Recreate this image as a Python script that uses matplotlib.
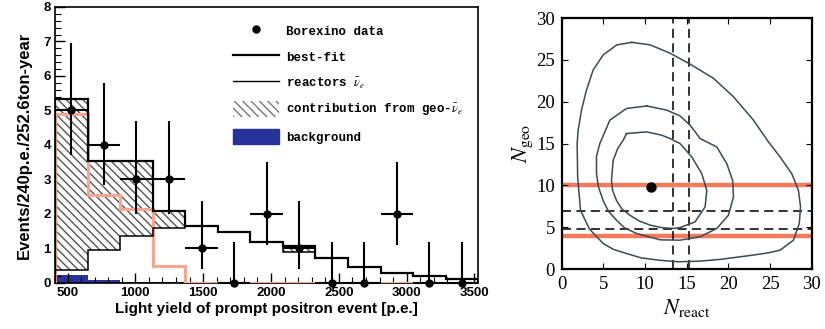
import numpy as np
import matplotlib
matplotlib.use('Agg')
import matplotlib.pyplot as plt
from matplotlib.lines import Line2D
from matplotlib.patches import Patch
from matplotlib.font_manager import FontProperties

plt.rcParams['mathtext.fontset'] = 'stix'

# ---- left panel data (bins of 240 p.e.) ----
bin_edges = [408, 648, 888, 1128, 1368, 1608, 1848, 2088, 2328, 2568, 2808, 3048, 3288, 3528]
data_x = [528, 768, 1008, 1248, 1488, 1728, 1968, 2208, 2448, 2688, 2928, 3168, 3408]
data_y = [5, 4, 3, 3, 1, 0, 2, 1, 0, 0, 2, 0, 0]
err_lo = [1.3, 1.17, 1.0, 1.0, 0.6, 0.0, 0.9, 0.6, 0.0, 0.0, 0.9, 0.0, 0.0]
err_hi = [1.95, 1.8, 1.7, 1.7, 1.37, 1.2, 1.5, 1.37, 1.2, 1.2, 1.5, 1.2, 1.2]
best_fit = [5.32, 3.52, 3.52, 2.08, 1.65, 1.48, 1.2, 1.06, 0.71, 0.46, 0.29, 0.2, 0.11]
reactors = [0.37, 0.95, 1.37, 1.6, 1.65, 1.48, 1.2, 0.89, 0.71, 0.46, 0.29, 0.2, 0.11]
geo = [4.9, 2.55, 2.14, 0.5, 0, 0, 0, 0, 0, 0, 0, 0, 0]
background = [0.22, 0.08, 0.04, 0.03, 0.02, 0.02, 0.01, 0.01, 0.01, 0.01, 0.01, 0.01, 0.01]

# ---- right panel data ----
best_point = (10.7, 9.8)
orange_geo = [10.0, 3.9]
dashed_geo = [6.9, 4.8]
dashed_react = [13.4, 15.3]

outer_n = [8.4, 10.6, 13.0, 15.4, 18.2, 20.6, 23.0, 24.8, 26.2, 27.6, 28.4, 28.65, 28.5, 27.8,
           26.2, 24.8, 22.9, 19.0, 16.5, 14.0, 11.8, 9.5, 7.76, 6.2, 4.96, 3.3, 2.24, 1.9,
           1.84, 1.96, 2.36, 2.96, 3.76, 4.96, 6.6, 8.4]
outer_g = [27.1, 26.8, 25.8, 24.5, 22.8, 20.6, 17.8, 15.2, 13.4, 11.4, 9.4, 7.45, 5.46, 3.46,
           2.27, 1.95, 1.67, 1.16, 0.95, 0.88, 1.05, 1.35, 1.87, 2.35, 3.07, 4.8, 7.05, 11.0,
           15.0, 16.6, 19.0, 21.4, 23.8, 25.6, 26.8, 27.1]
middle_n = [10.2, 12.6, 14.2, 15.4, 16.6, 18.6, 19.8, 20.5, 20.6, 20.0, 18.6, 16.6, 14.2, 11.8,
            8.96, 7.5, 6.56, 5.6, 4.96, 4.4, 4.16, 4.16, 4.56, 5.76, 7.76, 10.2]
middle_g = [19.5, 19.0, 18.3, 17.2, 15.6, 14.6, 12.6, 10.6, 8.64, 6.45, 4.86, 3.86, 3.46, 3.5,
            4.26, 4.95, 5.85, 6.9, 8.2, 9.8, 11.4, 13.5, 15.0, 17.8, 19.2, 19.5]
inner_n = [7.76, 10.2, 12.0, 13.0, 14.2, 15.6, 16.8, 17.4, 17.2, 16.0, 14.2, 13.4, 12.0, 10.6,
           9.3, 8.16, 7.2, 6.56, 6.1, 5.96, 6.16, 6.7, 7.36, 7.76]
inner_g = [16.2, 16.4, 16.0, 15.6, 15.0, 13.4, 11.4, 9.4, 7.45, 5.65, 4.97, 4.86, 4.95, 5.26,
           5.75, 6.45, 7.2, 8.2, 9.4, 10.6, 13.0, 14.4, 15.4, 16.2]

fig = plt.figure(figsize=(8.25, 3.29), dpi=100)

# ---------------- left panel ----------------
ax = fig.add_axes([0.0667, 0.140, 0.513, 0.839])
bold = dict(family='Liberation Sans', weight='bold')

ax.stairs(background, bin_edges, fill=True, color='#28339a', zorder=1)
ax.stairs(best_fit, bin_edges, baseline=reactors, fill=True, facecolor='white',
          edgecolor='#555555', hatch='\\\\\\\\', linewidth=0, zorder=2)
ax.stairs(geo, bin_edges, color='#f7a68f', linewidth=2.2, zorder=3)
ax.stairs(reactors, bin_edges, color='black', linewidth=1.1, zorder=4)
ax.stairs(best_fit, bin_edges, color='black', linewidth=1.6, zorder=5)
ax.errorbar(data_x, data_y, xerr=120, yerr=[err_lo, err_hi], fmt='o', color='black',
            markersize=5, elinewidth=1.5, capsize=0, zorder=6, clip_on=False)

ax.set_xlim(408, 3528)
ax.set_ylim(0, 8)
ax.set_xticks([500, 1000, 1500, 2000, 2500, 3000, 3500])
ax.set_xticks(np.arange(500, 3528, 100), minor=True)
ax.set_yticks(range(0, 9))
ax.set_yticks(np.arange(0, 8.01, 0.2), minor=True)
ax.tick_params(direction='in', which='major', length=7, width=1, top=False, right=False, pad=3)
ax.tick_params(direction='in', which='minor', length=4, width=0.8, top=False, right=False)
for lab in ax.get_xticklabels() + ax.get_yticklabels():
    lab.set_fontproperties(FontProperties(size=9.5, **bold))
for s in ax.spines.values():
    s.set_linewidth(1.2)
ax.set_xlabel('Light yield of prompt positron event [p.e.]', fontsize=11, labelpad=2, **bold)
ax.set_ylabel('Events/240p.e./252.6ton-year', fontsize=12, labelpad=8, **bold)

handles = [
    Line2D([], [], marker='o', color='black', linestyle='none', markersize=5),
    Line2D([], [], color='black', linewidth=1.6),
    Line2D([], [], color='black', linewidth=1.0),
    Patch(facecolor='white', edgecolor='#777777', hatch='\\\\\\\\', linewidth=0),
    Patch(facecolor='#28339a', edgecolor='#28339a'),
]
labels = ['Borexino data', 'best-fit', r'reactors $\bar{\nu}_e$',
          r'contribution from geo-$\bar{\nu}_e$', 'background']
ax.legend(handles, labels, loc='upper left', bbox_to_anchor=(0.42, 0.94), frameon=False,
          prop=dict(family='Liberation Mono', weight='bold', size=9),
          handlelength=3.7, handleheight=1.5, labelspacing=0.85, handletextpad=0.55,
          borderpad=0, borderaxespad=0)

# ---------------- right panel ----------------
ax2 = fig.add_axes([0.681, 0.182, 0.303, 0.763])
for g in orange_geo:
    ax2.axhline(g, color='#f47a5c', linewidth=3.2, zorder=1)
for g in dashed_geo:
    ax2.axhline(g, color='#222222', linewidth=1.3, linestyle=(0, (5, 3)), zorder=2)
for n in dashed_react:
    ax2.axvline(n, color='#222222', linewidth=1.3, linestyle=(0, (5, 3)), zorder=2)
for cn, cg in [(outer_n, outer_g), (middle_n, middle_g), (inner_n, inner_g)]:
    ax2.plot(cn, cg, color='#3c4a55', linewidth=1.1, zorder=3)
ax2.plot(*best_point, 'o', color='black', markersize=6.5, zorder=4)

ax2.set_xlim(0, 30)
ax2.set_ylim(0, 30)
ax2.set_xticks(range(0, 31, 5))
ax2.set_yticks(range(0, 31, 5))
ax2.tick_params(direction='in', length=4, width=0.8, top=True, right=True, pad=5,
                labelsize=13.5)
for lab in ax2.get_xticklabels() + ax2.get_yticklabels():
    lab.set_family('Liberation Serif')
for s in ax2.spines.values():
    s.set_linewidth(1.6)
ax2.set_xlabel(r'$N_{\mathrm{react}}$', fontsize=16, labelpad=3)
ax2.set_ylabel(r'$N_{\mathrm{geo}}$', fontsize=16, labelpad=1)

fig.savefig('out.png', dpi=100)
